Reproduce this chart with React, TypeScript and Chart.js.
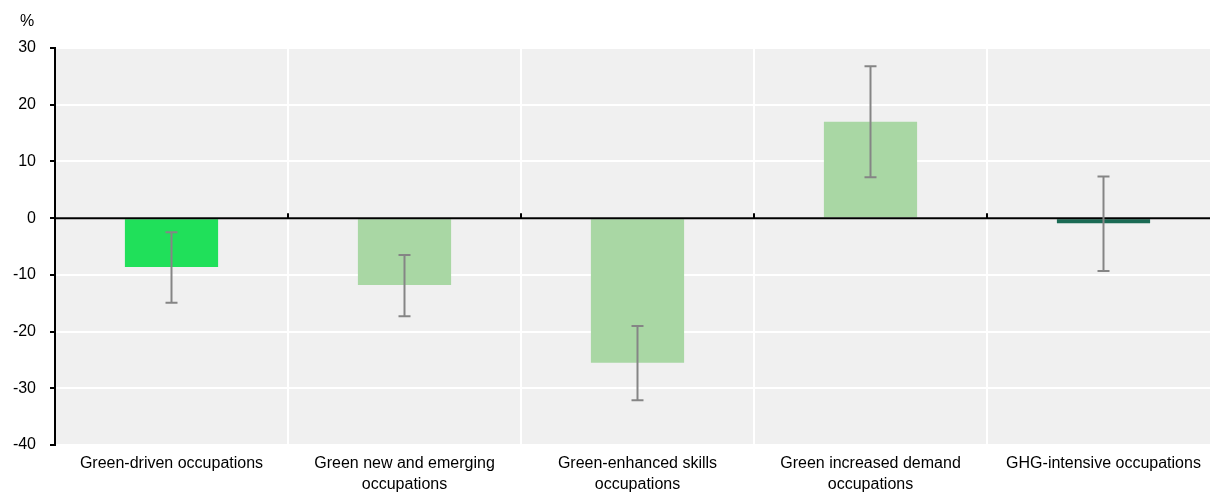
import React, { useEffect, useRef } from "react";
import { Chart, registerables } from "chart.js";

Chart.register(...registerables);

const categories: (string | string[])[] = [
  "Green-driven occupations",
  ["Green new and emerging", "occupations"],
  ["Green-enhanced skills", "occupations"],
  ["Green increased demand", "occupations"],
  "GHG-intensive occupations",
];
const values = [-8.6, -11.8, -25.5, 17.0, -0.9];
const errLow = [-14.9, -17.3, -32.1, 7.2, -9.3];
const errHigh = [-2.5, -6.5, -19.0, 26.8, 7.35];
const barColors = ["#20E05A", "#A9D7A4", "#A9D7A4", "#A9D7A4", "#1B6B55"];
const yTicks = [-40, -30, -20, -10, 0, 10, 20, 30];

const FONT = "'Liberation Sans', Arial, sans-serif";

const bgPlugin = {
  id: "bgPlugin",
  beforeDraw(chart: any) {
    const { ctx, chartArea } = chart;
    ctx.save();
    ctx.fillStyle = "#F0F0F0";
    ctx.fillRect(chartArea.left, chartArea.top, chartArea.right - chartArea.left, chartArea.bottom - chartArea.top);
    ctx.restore();
  },
  afterDraw(chart: any) {
    const { ctx } = chart;
    ctx.save();
    ctx.fillStyle = "#000";
    ctx.font = `16px ${FONT}`;
    ctx.textAlign = "center";
    ctx.textBaseline = "middle";
    ctx.fillText("%", 27, 22);
    ctx.restore();
  },
};

const overlayPlugin = {
  id: "overlayPlugin",
  afterDatasetsDraw(chart: any) {
    const { ctx, chartArea, scales } = chart;
    const x = scales.x;
    const y = scales.y;
    const y0 = y.getPixelForValue(0);
    ctx.save();
    // zero line
    ctx.strokeStyle = "#000";
    ctx.lineWidth = 2;
    ctx.beginPath();
    ctx.moveTo(chartArea.left, y0);
    ctx.lineTo(chartArea.right, y0);
    ctx.stroke();
    // category boundary ticks on zero line
    const n = categories.length;
    for (let i = 1; i < n; i++) {
      const xb = (x.getPixelForValue(i - 1) + x.getPixelForValue(i)) / 2;
      ctx.beginPath();
      ctx.moveTo(xb, y0);
      ctx.lineTo(xb, y0 - 5);
      ctx.stroke();
    }
    // error bars
    const meta = chart.getDatasetMeta(0);
    ctx.strokeStyle = "#858585";
    ctx.lineWidth = 2;
    meta.data.forEach((bar: any, i: number) => {
      const cx = bar.x;
      const yl = y.getPixelForValue(errLow[i]);
      const yh = y.getPixelForValue(errHigh[i]);
      ctx.beginPath();
      ctx.moveTo(cx, yl);
      ctx.lineTo(cx, yh);
      ctx.moveTo(cx - 6, yl);
      ctx.lineTo(cx + 6, yl);
      ctx.moveTo(cx - 6, yh);
      ctx.lineTo(cx + 6, yh);
      ctx.stroke();
    });
    ctx.restore();
  },
};

export default function App() {
  const ref = useRef<HTMLCanvasElement>(null);
  useEffect(() => {
    if (!ref.current) return;
    const chart = new Chart(ref.current, {
      type: "bar",
      data: {
        labels: categories,
        datasets: [
          {
            data: values,
            backgroundColor: barColors,
            borderWidth: 0,
            barPercentage: 0.4,
            categoryPercentage: 1,
          },
        ],
      },
      options: {
        responsive: false,
        animation: false,
        devicePixelRatio: 1,
        layout: { padding: { top: 48, right: 2, left: 0, bottom: 0 } },
        plugins: { legend: { display: false }, tooltip: { enabled: false } },
        scales: {
          x: {
            offset: true,
            grid: { color: "#FFFFFF", lineWidth: 2, offset: true, drawTicks: false },
            border: { display: false },
            ticks: {
              color: "#000",
              font: { family: FONT, size: 16, lineHeight: 1.3 },
              padding: 8,
              maxRotation: 0,
              autoSkip: false,
            },
            afterFit: (s: any) => {
              s.height = 49;
            },
          },
          y: {
            min: -40,
            max: 30,
            afterBuildTicks: (s: any) => {
              s.ticks = yTicks.map((v) => ({ value: v }));
            },
            grid: { color: "#FFFFFF", lineWidth: 2, tickColor: "#000", tickLength: 5, tickWidth: 2 },
            border: { display: true, color: "#000", width: 2 },
            ticks: {
              color: "#000",
              font: { family: FONT, size: 16 },
              padding: 14,
            },
            afterFit: (s: any) => {
              s.width = 55;
            },
          },
        },
      },
      plugins: [bgPlugin, overlayPlugin],
    });
    return () => chart.destroy();
  }, []);
  return (
    <div style={{ position: "fixed", top: 0, left: 0, width: 1210, height: 494, overflow: "hidden", background: "#fff" }}>
      <canvas ref={ref} width={1222} height={494} style={{ display: "block", width: 1222, height: 494 }} />
    </div>
  );
}
